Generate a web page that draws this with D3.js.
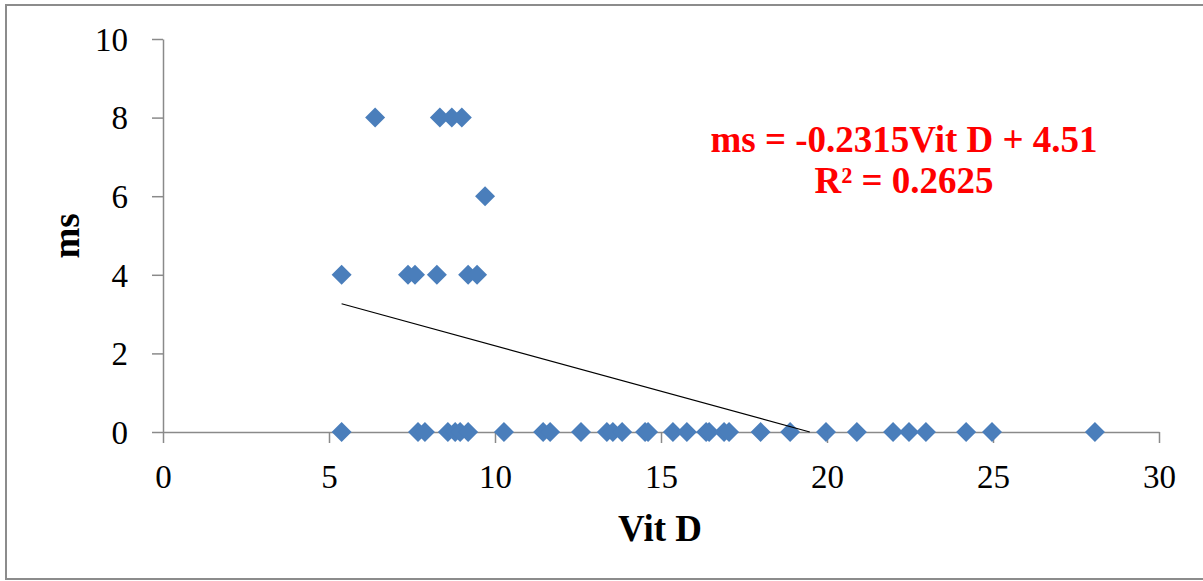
<!DOCTYPE html>
<html>
<head>
<meta charset="utf-8">
<script src="https://cdn.jsdelivr.net/npm/d3@7"></script>
<style>
  body { margin: 0; background: #fff; }
  svg { display: block; }
</style>
</head>
<body>
<svg></svg>
<script>
// points (Vit D, ms)
const vitD = [
  5.38, 7.68, 7.89, 8.58, 8.80, 8.95, 9.19, 10.27, 11.45, 11.66, 12.59,
  13.37, 13.55, 13.83, 14.52, 14.61, 15.36, 15.78, 16.36, 16.45, 16.90, 17.05,
  18.0, 18.89, 19.97, 20.9, 21.99, 22.47, 22.98, 24.19, 24.97, 28.07,
  6.39, 8.34, 8.70, 9.00,
  9.70,
  5.38, 7.38, 7.59, 8.25, 9.19, 9.46
]
const ms = [
  0, 0, 0, 0, 0, 0, 0, 0, 0, 0, 0,
  0, 0, 0, 0, 0, 0, 0, 0, 0, 0, 0,
  0, 0, 0, 0, 0, 0, 0, 0, 0, 0,
  8, 8, 8, 8,
  6,
  4, 4, 4, 4, 4, 4
]
const xTicks = [0, 5, 10, 15, 20, 25, 30]
const yTicks = [0, 2, 4, 6, 8, 10]
const slope = -0.2315
const intercept = 4.51
const eqLabel = "ms = -0.2315Vit D + 4.51"
const r2Label = "R² = 0.2625"

const points = vitD.map((v, i) => ({ x: v, y: ms[i] }))

const svg = d3.select("svg")
  .attr("width", 1203)
  .attr("height", 581)

// chart frame
svg.append("rect")
  .attr("x", 6).attr("y", 5)
  .attr("width", 1220).attr("height", 574)
  .attr("fill", "none")
  .attr("stroke", "#8c8c8c")
  .attr("stroke-width", 2)

const plotLeft = 163, plotRight = 1159, plotTop = 39, plotBottom = 432

const x = d3.scaleLinear().domain([0, 30]).range([plotLeft, plotRight])
const y = d3.scaleLinear().domain([0, 10]).range([plotBottom, plotTop])

const font = "'Liberation Serif', 'Times New Roman', serif"

// axes
const xAxis = svg.append("g")
  .attr("transform", `translate(0, ${plotBottom})`)
  .call(d3.axisBottom(x).tickValues(xTicks).tickSize(11).tickSizeOuter(0))
xAxis.selectAll("text")
  .attr("y", 56).attr("dy", 0)
  .style("font-family", font).style("font-size", "33px").attr("fill", "#000")

const yAxis = svg.append("g")
  .attr("transform", `translate(${plotLeft}, 0)`)
  .call(d3.axisLeft(y).tickValues(yTicks).tickSize(11).tickSizeOuter(0))
yAxis.selectAll("text")
  .attr("x", -35).attr("dy", "0.34em")
  .style("font-family", font).style("font-size", "33px").attr("fill", "#000")

svg.selectAll(".domain, .tick line")
  .attr("stroke", "#8a8a8a")
  .attr("stroke-width", 1.5)

// axis titles
svg.append("text")
  .attr("x", 660).attr("y", 541)
  .attr("text-anchor", "middle")
  .style("font-family", font).style("font-size", "37px").style("font-weight", "bold")
  .text("Vit D")

svg.append("text")
  .attr("transform", "translate(79, 236) rotate(-90)")
  .attr("text-anchor", "middle")
  .style("font-family", font).style("font-size", "37px").style("font-weight", "bold")
  .text("ms")

// markers
svg.append("g")
  .selectAll("path")
  .data(points)
  .join("path")
  .attr("d", d3.symbol(d3.symbolSquare, 200))
  .attr("transform", d => `translate(${x(d.x)}, ${y(d.y)}) rotate(45)`)
  .attr("fill", "#4a7ebb")

// linear trend line, cut at the x axis
const xMin = d3.min(vitD)
const xZero = -intercept / slope
svg.append("line")
  .attr("x1", x(xMin)).attr("y1", y(slope * xMin + intercept))
  .attr("x2", x(xZero)).attr("y2", y(0))
  .attr("stroke", "#000")
  .attr("stroke-width", 1.2)

// equation label
const eq = svg.append("g")
  .style("font-family", font).style("font-size", "37px").style("font-weight", "bold")
  .attr("fill", "#ff0000")
  .attr("text-anchor", "middle")
eq.append("text").attr("x", 904).attr("y", 152).text(eqLabel)
eq.append("text").attr("x", 904).attr("y", 193).text(r2Label)
</script>
</body>
</html>
